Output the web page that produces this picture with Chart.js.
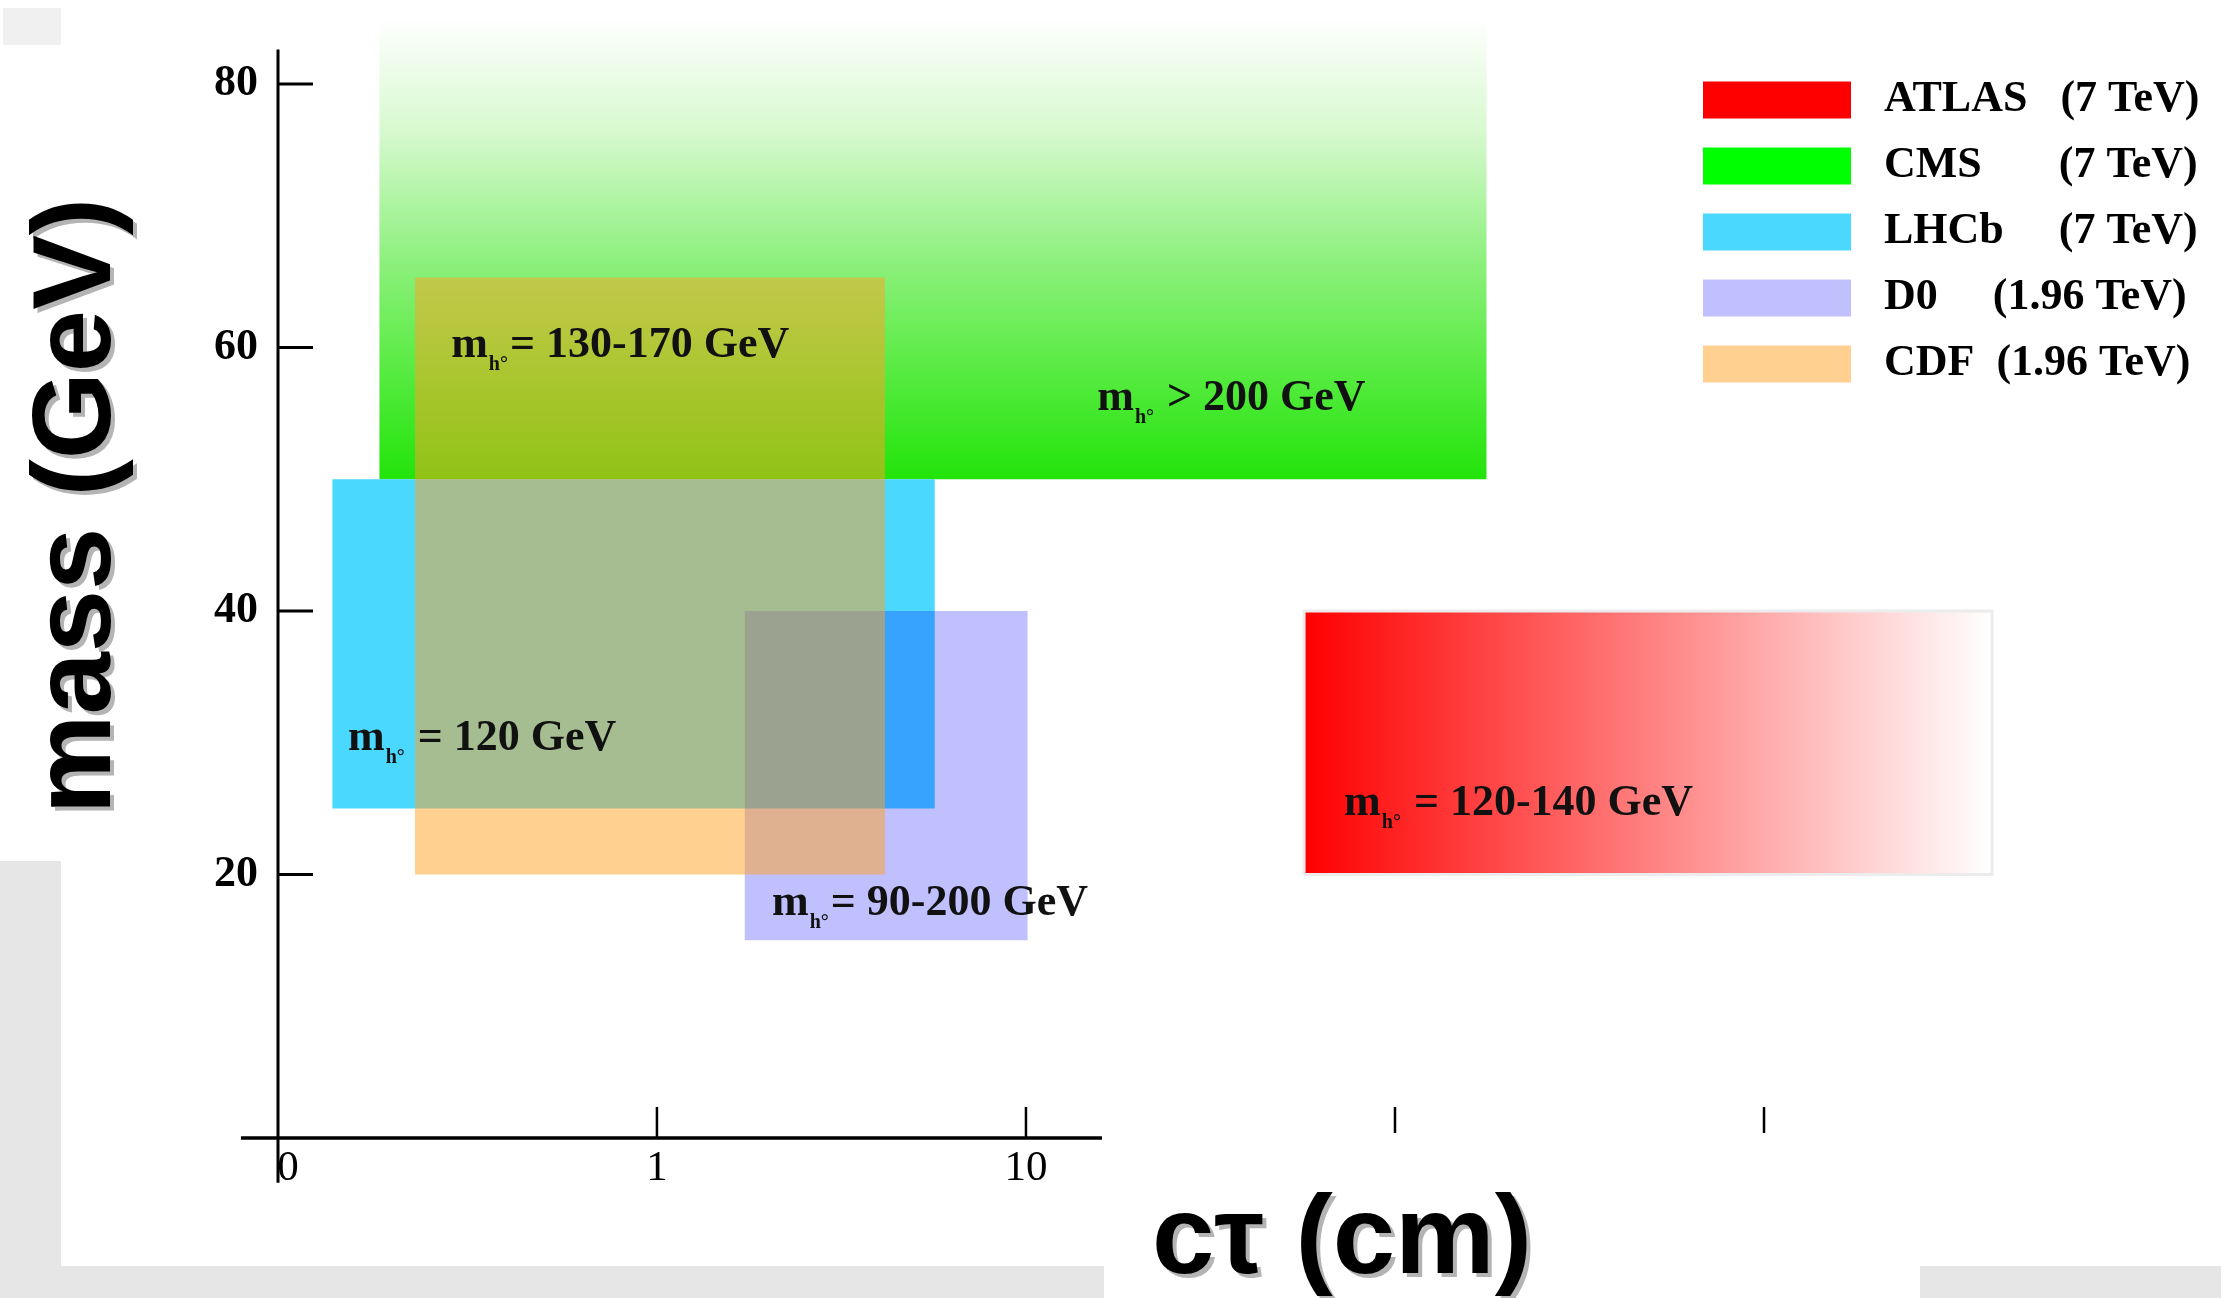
<!DOCTYPE html>
<html>
<head>
<meta charset="utf-8">
<title>Displaced vertex searches</title>
<script src="https://cdn.jsdelivr.net/npm/chart.js@4.4.1/dist/chart.umd.min.js"></script>
<style>
    html, body { margin: 0; padding: 0; background: #fff; }
    #wrap { position: relative; width: 2221px; height: 1298px; overflow: hidden; }
    .frame { position: absolute; background: #e6e6e6; }
    canvas { position: absolute; left: 0; top: 0; }
</style>
</head>
<body>
<div id="wrap">
    <div class="frame" style="left:3px;top:8px;width:58px;height:37px;background:#f0f0f0"></div>
    <div class="frame" style="left:0;top:861px;width:61px;height:437px"></div>
    <div class="frame" style="left:0;top:1266px;width:1104px;height:32px"></div>
    <div class="frame" style="left:1920px;top:1266px;width:301px;height:32px"></div>
    <canvas id="myChart" width="2221" height="1298"></canvas>
</div>
<script>
// experiments and the region each one covers (ctau in cm, mass in GeV)
var experiments = ['ATLAS', 'CMS', 'LHCb', 'D0', 'CDF'];
var energies = ['7 TeV', '7 TeV', '7 TeV', '1.96 TeV', '1.96 TeV'];
var ctauMin = [56.7, 0.177, 0.132, 1.73, 0.221];
var ctauMax = [4150, 177, 5.66, 10.1, 4.15];
var massMin = [20, 50, 25, 15, 20];
var massMax = [40, 85, 50, 40, 65.3];

// higgs mass written inside each box
var higgsText = [' = 120-140 GeV', ' > 200 GeV', ' = 120 GeV', '= 90-200 GeV', '= 130-170 GeV'];
var higgsCtau = [72.8, 15.6, 0.1455, 2.05, 0.277];
var higgsMass = [24.5, 55.25, 29.45, 16.9, 59.3];

// axis ticks
var xTicks = [0.1, 1, 10, 100, 1000];
var xTickLabels = ['0', '1', '10', '', ''];
var yTicks = [20, 40, 60, 80];

var legendColors = ['#ff0000', '#00ff00', '#4ad8ff', '#c0c0ff', '#ffd090'];
var legendGaps = [3, 7, 5, 5, 2];

function atlasFill(c) {
    var chart = c.chart;
    if (!chart.chartArea) return '#ff0000';
    var xs = chart.scales.x;
    var g = chart.ctx.createLinearGradient(xs.getPixelForValue(ctauMin[0]), 0, xs.getPixelForValue(ctauMax[0]), 0);
    g.addColorStop(0, '#ff0000');
    g.addColorStop(1, '#ffffff');
    return g;
}

function cmsFill(c) {
    var chart = c.chart;
    if (!chart.chartArea) return '#00ff00';
    var ys = chart.scales.y;
    var g = chart.ctx.createLinearGradient(0, ys.getPixelForValue(massMax[1]), 0, ys.getPixelForValue(massMin[1]));
    g.addColorStop(0, '#ffffff');
    g.addColorStop(0.25, '#d6f9ce');
    g.addColorStop(0.53, '#8cf07c');
    g.addColorStop(0.72, '#62ec4c');
    g.addColorStop(1, '#22e40a');
    return g;
}

var fills = [atlasFill, cmsFill, '#4ad8ff', '#c0c0ff', 'rgba(255,161,33,0.5)'];
var drawOrder = [4, 3, 2, 1, 0];

var datasets = experiments.map(function(name, i) {
    return {
        label: name,
        data: [
            {x: ctauMin[i], y: massMin[i]},
            {x: ctauMax[i], y: massMin[i]},
            {x: ctauMax[i], y: massMax[i]},
            {x: ctauMin[i], y: massMax[i]},
            {x: ctauMin[i], y: massMin[i]}
        ],
        backgroundColor: fills[i],
        borderColor: i === 0 ? '#ececec' : 'rgba(0,0,0,0)',
        borderWidth: i === 0 ? 3 : 0,
        fill: 'shape',
        pointRadius: 0,
        order: drawOrder[i],
        blend: i === 3 ? 'multiply' : null
    };
});

// D0 box is multiplied onto the LHCb box
var boxBlend = {
    id: 'boxBlend',
    afterDatasetDraw: function(chart, args) {
        var metas = chart.getSortedVisibleDatasetMetas();
        var pos = metas.findIndex(function(m) { return m.index === args.index; });
        var next = metas[pos - 1];
        chart.ctx.globalCompositeOperation = (next && chart.data.datasets[next.index].blend) || 'source-over';
    },
    afterDatasetsDraw: function(chart) {
        chart.ctx.globalCompositeOperation = 'source-over';
    }
};

var decorations = {
    id: 'decorations',
    afterLayout: function(chart) {
        // legend sits in the upper right corner of the plot
        var lg = chart.legend;
        var w = lg.width, h = lg.height;
        lg.left = 1681;
        lg.top = 56;
        lg.right = lg.left + w;
        lg.bottom = lg.top + h;
    },
    afterDatasetsDraw: function(chart) {
        var ctx = chart.ctx, xs = chart.scales.x, ys = chart.scales.y;
        ctx.save();
        ctx.fillStyle = '#111';
        ctx.textAlign = 'left';
        ctx.textBaseline = 'alphabetic';
        higgsText.forEach(function(t, i) {
            var x = xs.getPixelForValue(higgsCtau[i]);
            var y = ys.getPixelForValue(higgsMass[i]);
            ctx.font = 'bold 44px "Liberation Serif"';
            ctx.fillText('m', x, y);
            x += ctx.measureText('m').width + 1;
            ctx.font = 'bold 20px "Liberation Serif"';
            ctx.fillText('h°', x, y + 13);
            x += ctx.measureText('h°').width + 2;
            ctx.font = 'bold 44px "Liberation Serif"';
            ctx.fillText(t, x, y);
        });
        ctx.restore();
    },
    afterDraw: function(chart) {
        var ctx = chart.ctx, xs = chart.scales.x, ys = chart.scales.y;
        var axisY = ys.getPixelForValue(0);
        ctx.save();
        ctx.strokeStyle = '#000';

        // axis lines
        ctx.lineWidth = 3;
        ctx.beginPath();
        ctx.moveTo(xs.left, ys.getPixelForValue(82.6));
        ctx.lineTo(xs.left, ys.getPixelForValue(-3.4));
        ctx.stroke();
        ctx.lineWidth = 3.5;
        ctx.beginPath();
        ctx.moveTo(xs.getPixelForValue(0.0746), axisY);
        ctx.lineTo(xs.getPixelForValue(16.07), axisY);
        ctx.stroke();

        // tick marks, pointing inwards
        ctx.lineWidth = 3;
        yTicks.forEach(function(v) {
            var p = ys.getPixelForValue(v);
            ctx.beginPath();
            ctx.moveTo(xs.left, p);
            ctx.lineTo(xs.left + 35, p);
            ctx.stroke();
        });
        ctx.lineWidth = 2.5;
        xTicks.slice(1).forEach(function(v) {
            var p = xs.getPixelForValue(v);
            ctx.beginPath();
            ctx.moveTo(p, v <= 16.07 ? axisY : axisY - 5);
            ctx.lineTo(p, axisY - 31);
            ctx.stroke();
        });

        // axis titles with a grey drop shadow
        ctx.font = 'bold 112px "Liberation Sans"';
        ctx.fillStyle = '#000';
        ctx.shadowColor = '#b4b4b4';
        ctx.shadowOffsetX = 4;
        ctx.shadowOffsetY = 4;
        ctx.shadowBlur = 0;
        ctx.textAlign = 'center';
        ctx.textBaseline = 'alphabetic';
        ctx.fillText('cτ (cm)', 1342, 1273);
        ctx.translate(110, 506);
        ctx.rotate(-Math.PI / 2);
        ctx.fillText('mass (GeV)', 0, 0);
        ctx.restore();
    }
};

function noEdgePadding(scale) {
    scale.paddingTop = 0;
    scale.paddingBottom = 0;
    scale.paddingLeft = 0;
    scale.paddingRight = 0;
}

var ctx = document.getElementById('myChart').getContext('2d');
var myChart = new Chart(ctx, {
    type: 'line',
    data: { datasets: datasets },
    options: {
        responsive: false,
        animation: false,
        devicePixelRatio: 1,
        events: [],
        layout: { padding: { top: 18, right: 221, bottom: 0, left: 0 } },
        scales: {
            x: {
                type: 'logarithmic',
                min: 0.094,
                max: 4360,
                grid: { display: false, drawTicks: false },
                border: { display: false },
                afterBuildTicks: function(scale) {
                    scale.ticks = xTicks.map(function(v) { return {value: v}; });
                },
                afterFit: function(scale) {
                    scale.height = 160;
                    noEdgePadding(scale);
                },
                ticks: {
                    autoSkip: false,
                    maxRotation: 0,
                    minRotation: 0,
                    padding: 5,
                    color: '#000',
                    font: { family: '"Liberation Serif", serif', size: 43 },
                    callback: function(value, index) { return xTickLabels[index]; }
                }
            },
            y: {
                type: 'linear',
                min: 0,
                max: 85,
                grid: { display: false, drawTicks: false },
                border: { display: false },
                afterBuildTicks: function(scale) {
                    scale.ticks = yTicks.map(function(v) { return {value: v}; });
                },
                afterFit: function(scale) {
                    scale.width = 278;
                    noEdgePadding(scale);
                },
                ticks: {
                    autoSkip: false,
                    padding: 20,
                    color: '#000',
                    font: { family: '"Liberation Serif", serif', size: 44, weight: 'bold' }
                }
            }
        },
        plugins: {
            tooltip: { enabled: false },
            legend: {
                position: 'chartArea',
                align: 'start',
                labels: {
                    boxWidth: 148,
                    boxHeight: 37,
                    padding: 22,
                    color: '#000',
                    font: { family: '"Liberation Serif", serif', size: 44, weight: 'bold' },
                    sort: function(a, b) { return a.datasetIndex - b.datasetIndex; },
                    generateLabels: function(chart) {
                        var items = Chart.defaults.plugins.legend.labels.generateLabels(chart);
                        items.forEach(function(it) {
                            var i = it.datasetIndex;
                            it.text = ' ' + experiments[i] + ' '.repeat(legendGaps[i]) + '(' + energies[i] + ')';
                            it.fillStyle = legendColors[i];
                            it.strokeStyle = 'rgba(0,0,0,0)';
                            it.lineWidth = 0;
                        });
                        return items;
                    }
                }
            }
        }
    },
    plugins: [boxBlend, decorations]
});
</script>
</body>
</html>
